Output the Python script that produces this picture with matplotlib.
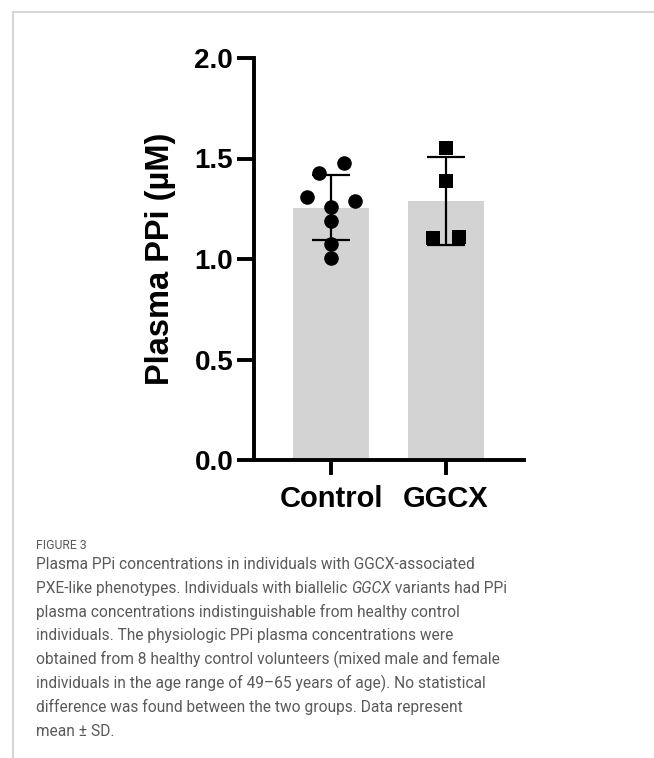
import numpy as np
import matplotlib.pyplot as plt
from matplotlib.lines import Line2D

W, H = 654, 758

groups = ["Control", "GGCX"]
control_vals = [1.43, 1.48, 1.31, 1.29, 1.26, 1.19, 1.075, 1.005]
ggcx_vals = [1.55, 1.39, 1.105, 1.11]
# horizontal scatter of the dots (fraction of category spacing)
control_jitter = [-0.105, 0.11, -0.21, 0.21, 0.0, 0.0, 0.0, 0.0]
ggcx_jitter = [0.0, 0.0, -0.11, 0.11]

yticks = [0.0, 0.5, 1.0, 1.5, 2.0]

caption_head = "FIGURE 3"
caption_lines = [
    "Plasma PPi concentrations in individuals with GGCX-associated",
    None,
    "plasma concentrations indistinguishable from healthy control",
    "individuals. The physiologic PPi plasma concentrations were",
    "obtained from 8 healthy control volunteers (mixed male and female",
    "individuals in the age range of 49\u201365 years of age). No statistical",
    "difference was found between the two groups. Data represent",
    "mean \u00b1 SD.",
]

fig = plt.figure(figsize=(W / 100, H / 100), dpi=100)


def px(x, y):
    return x / W, 1 - y / H


ax = fig.add_axes([254 / W, 1 - 460 / H, 270 / W, 402 / H])

data = [control_vals, ggcx_vals]
jit = [control_jitter, ggcx_jitter]
markers = ["o", "s"]
means = [np.mean(d) for d in data]
sds = [np.std(d, ddof=1) for d in data]
xpos = np.arange(len(groups))

ax.bar(xpos, means, width=0.66, color="#d3d3d3", zorder=1)
for i, d in enumerate(data):
    ax.scatter(xpos[i] + np.array(jit[i]), d, marker=markers[i], s=110 if i == 0 else 100,
               color="black", zorder=3, linewidths=0)
ax.errorbar(xpos, means, yerr=sds, fmt="none", ecolor="black", elinewidth=1.6,
            capsize=13.5, capthick=1.6, zorder=4)

ax.set_xlim(-0.67, 1.678)
ax.set_ylim(0, 2.0)
ax.set_yticks(yticks)
ax.set_yticklabels([f"{v:.1f}" for v in yticks])
ax.set_xticks(xpos)
ax.set_xticklabels(groups)

for s in ["top", "right"]:
    ax.spines[s].set_visible(False)
for s in ["left", "bottom"]:
    ax.spines[s].set_linewidth(2.8)
    ax.spines[s].set_capstyle("projecting")

fam = ["Liberation Sans", "DejaVu Sans"]
ax.tick_params(axis="y", length=12.5, width=2.8, pad=2.5)
ax.tick_params(axis="x", length=11, width=2.8, pad=7)
for lab in ax.get_yticklabels():
    lab.set_fontfamily(fam)
    lab.set_fontweight("bold")
    lab.set_fontsize(20)
for lab in ax.get_xticklabels():
    lab.set_fontfamily(fam)
    lab.set_fontweight("bold")
    lab.set_fontsize(21)
ax.set_ylabel("Plasma PPi (\u00b5M)", fontfamily=fam, fontweight="bold", fontsize=23.5)
ax.yaxis.set_label_coords((176 - 254) / 270, 0.5)

# frame lines of the figure panel
fig.add_artist(Line2D([13 / W, 1], [1 - 12 / H] * 2, color="#d2d2d2", lw=1.3))
fig.add_artist(Line2D([13 / W] * 2, [1 - 12 / H, 0], color="#d2d2d2", lw=1.3))

cap_fam = ["Roboto", "DejaVu Sans"]
cap_w = "normal"
cap_col = "#5a5a5a"

# size the caption so the longest line spans the same width as in the figure
renderer = fig.canvas.get_renderer()
probe = fig.text(0, 0, caption_lines[4], fontfamily=cap_fam, fontweight=cap_w, fontsize=10)
fs = 10 * 462 / probe.get_window_extent(renderer).width
probe.remove()
probe = fig.text(0, 0, caption_head, fontfamily=cap_fam, fontsize=10)
fs_head = 10 * 51 / probe.get_window_extent(renderer).width
probe.remove()

fig.text(*px(36, 549), caption_head, fontfamily=cap_fam, fontsize=fs_head, color=cap_col,
         va="baseline", ha="left")

base = 569
step = 23.8
for k, line in enumerate(caption_lines):
    y = base + k * step
    if line is None:
        t1 = fig.text(*px(36, y), "PXE-like phenotypes. Individuals with biallelic ",
                      fontfamily=cap_fam, fontweight=cap_w, fontsize=fs, color=cap_col,
                      va="baseline")
        t2 = ax.annotate("GGCX", xy=(1, 0), xycoords=t1, fontfamily=cap_fam,
                         fontweight=cap_w, fontsize=fs, style="italic", color=cap_col,
                         va="bottom", ha="left", annotation_clip=False)
        ax.annotate(" variants had PPi", xy=(1, 0), xycoords=t2, fontfamily=cap_fam,
                    fontweight=cap_w, fontsize=fs, color=cap_col, va="bottom", ha="left",
                    annotation_clip=False)
    else:
        fig.text(*px(36, y), line, fontfamily=cap_fam, fontweight=cap_w, fontsize=fs,
                 color=cap_col, va="baseline")

fig.savefig("out.png", dpi=100)
